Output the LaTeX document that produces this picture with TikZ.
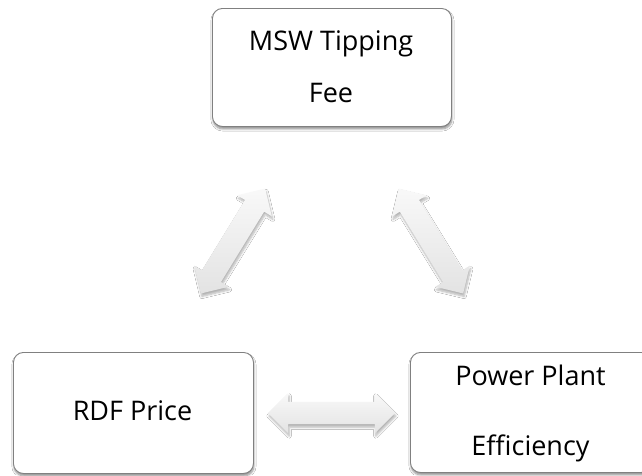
\documentclass[tikz,border=0pt]{standalone}
\usepackage{fontspec}
\setmainfont{Open Sans}
\usetikzlibrary{shapes.arrows,shadows.blur}
\definecolor{boxline}{RGB}{128,128,128}
\begin{document}
\begin{tikzpicture}[x=1pt,y=-1pt,
  box/.style={draw=boxline, line width=0.9pt, rounded corners=10pt, fill=white,
    rectangle, inner sep=0pt, anchor=north west,
    blur shadow={shadow xshift=0.5pt, shadow yshift=-2.5pt, shadow blur steps=6, shadow opacity=45}},
  txt/.style={anchor=base, inner sep=0pt, font=\fontsize{27}{27}\selectfont, text=black},
  darrow/.style={double arrow, inner sep=0pt, minimum width=40pt,
    double arrow head extend=9pt, double arrow head indent=0pt, double arrow tip angle=90,
    draw=none, top color=gray!5, bottom color=gray!22,
    blur shadow={shadow xshift=1pt, shadow yshift=-3pt, shadow blur steps=6, shadow opacity=30}}]
\useasboundingbox (0,0) rectangle (642,475);
\clip (0,0) rectangle (642,475);
\fill[white] (0,0) rectangle (642,475);
% boxes
\node[box, minimum width=239pt, minimum height=118pt] (top) at (212,8) {};
\node[box, minimum width=240pt, minimum height=121pt] (rdf) at (13,352) {};
\node[box, minimum width=241pt, minimum height=120pt] (ppe) at (410,352) {};
% texts
\node[txt] (t1) at (331,50) {MSW Tipping};
\node[txt] (t2) at (331,102) {Fee};
\node[txt] (r1) at (132.5,420) {RDF Price};
\node[txt] (p1) at (530.5,385) {Power Plant};
\node[txt] (p2) at (530.5,455) {Efficiency};
% arrows
\node[darrow, minimum height=123pt, rotate=58.5] (a1) at (233,241) {\rule{0pt}{22pt}};
\node[darrow, minimum height=123pt, rotate=-58.5] (a2) at (431,241) {\rule{0pt}{22pt}};
\node[darrow, minimum height=127pt] (a3) at (331.5,413) {\rule{0pt}{22pt}};
\end{tikzpicture}
\end{document}
